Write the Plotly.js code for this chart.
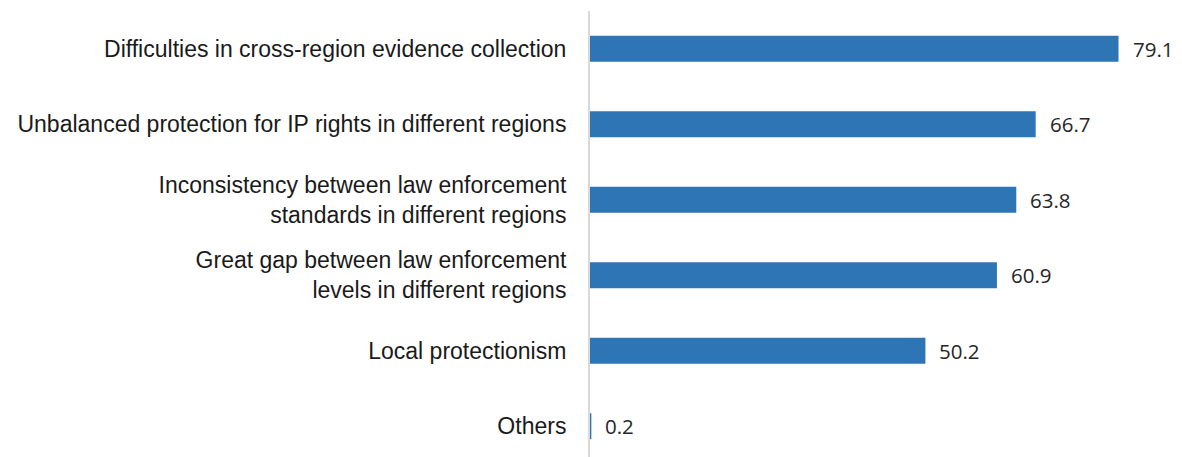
<!DOCTYPE html>
<html>
<head>
<meta charset="utf-8">
<script src="https://cdn.plot.ly/plotly-3.0.1.min.js"></script>
<style>html,body{margin:0;padding:0;background:#fff;}#chart{width:1182px;height:457px;}</style>
</head>
<body>
<div id="chart"></div>
<script>
const categories = [
  "Difficulties in cross-region evidence collection",
  "Unbalanced protection for IP rights in different regions",
  "Inconsistency between law enforcement<br>standards in different regions",
  "Great gap between law enforcement<br>levels in different regions",
  "Local protectionism",
  "Others"
];
const values = [79.1, 66.7, 63.8, 60.9, 50.2, 0.2];
const valueLabels = ["79.1", "66.7", "63.8", "60.9", "50.2", "0.2"];

const trace = {
  type: "bar",
  orientation: "h",
  x: values,
  y: categories,
  width: 0.345,
  marker: {color: "#2E75B6"},
  hoverinfo: "none"
};

const annotations = values.map((v, i) => ({
  x: v, y: categories[i], xref: "x", yref: "y",
  text: valueLabels[i], showarrow: false,
  xanchor: "left", yanchor: "middle", xshift: 12,
  font: {family: "Open Sans, sans-serif", size: 20.5, color: "#262626"}
}));

const layout = {
  width: 1182, height: 457,
  margin: {l: 590, r: 0, t: 11, b: 0},
  paper_bgcolor: "#ffffff", plot_bgcolor: "#ffffff",
  showlegend: false,
  xaxis: {range: [0, 88.6], showgrid: false, zeroline: false, showticklabels: false, ticks: "", showline: false},
  yaxis: {
    type: "category", range: [5.407, -0.5],
    showgrid: false, zeroline: false, showline: true,
    linecolor: "#d9d9d9", linewidth: 2, ticks: "",
    ticklabelstandoff: 17,
    tickfont: {family: "Liberation Sans, Arial, sans-serif", size: 23, color: "#1a1a1a"}
  },
  annotations: annotations
};

Plotly.newPlot("chart", [trace], layout, {displayModeBar: false, staticPlot: true});
</script>
</body>
</html>
